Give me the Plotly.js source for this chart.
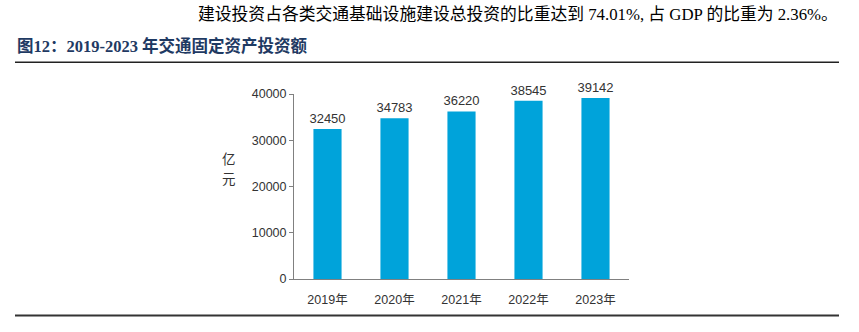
<!DOCTYPE html>
<html>
<head>
<meta charset="utf-8">
<script src="https://cdn.plot.ly/plotly-3.0.1.min.js"></script>
<style>
html,body{margin:0;padding:0;background:#fff;}
#chart{width:859px;height:332px;}
</style>
</head>
<body>
<div id="chart"></div>
<script>
// Data
var categories = ['2019年', '2020年', '2021年', '2022年', '2023年'];
var investment = [32450, 34783, 36220, 38545, 39142];
var yTickVals = [0, 10000, 20000, 30000, 40000];
var yTickText = ['0', '10000', '20000', '30000', '40000'];
var yUnitChars = ['亿', '元'];

var W = 859, H = 332;
var L = 294, R = 629, T = 94.3, B = 279.3;
function px(x) { return (x - L) / (R - L); }
function py(y) { return (B - y) / (B - T); }

var trace = {
  type: 'bar',
  x: categories,
  y: investment,
  text: investment.map(String),
  textposition: 'outside',
  constraintext: 'none',
  cliponaxis: false,
  textfont: {family: 'Liberation Sans, Arial, sans-serif', size: 13, color: '#333'},
  marker: {color: '#00a3da'},
  hoverinfo: 'none'
};

var annotations = [
  {
    xref: 'paper', yref: 'paper', x: px(840), y: py(15), xanchor: 'right', yanchor: 'middle',
    text: '建设投资占各类交通基础设施建设总投资的比重达到 74.01%, 占 GDP 的比重为 2.36%。',
    showarrow: false,
    font: {family: '"Liberation Serif", "Noto Sans CJK SC", serif', size: 16.8, color: '#000'}
  },
  {
    xref: 'paper', yref: 'paper', x: px(15), y: py(46), xanchor: 'left', yanchor: 'middle',
    text: '<b>图12：2019-2023 年交通固定资产投资额</b>',
    showarrow: false,
    font: {family: '"Liberation Serif", "Noto Sans CJK SC", serif', size: 16.5, color: '#1f3a63'}
  }
];
yUnitChars.forEach(function (ch, i) {
  annotations.push({
    xref: 'paper', yref: 'paper', x: px(229), y: py(158 + i * 20), xanchor: 'center', yanchor: 'middle',
    text: ch, showarrow: false,
    font: {family: '"Noto Sans CJK SC", sans-serif', size: 13.5, color: '#333'}
  });
});

var layout = {
  width: W, height: H,
  margin: {l: L, r: W - R, t: T, b: H - B, pad: 0},
  paper_bgcolor: '#fff',
  plot_bgcolor: '#fff',
  showlegend: false,
  bargap: 0.58,
  font: {family: 'Liberation Sans, Arial, "Noto Sans CJK SC", sans-serif', size: 12, color: '#333'},
  xaxis: {
    type: 'category',
    showline: true, linecolor: '#808080', linewidth: 1,
    ticks: '', showgrid: false, zeroline: false,
    ticklabelstandoff: 9,
    tickfont: {family: 'Liberation Sans, Arial, "Noto Sans CJK SC", sans-serif', size: 12.5, color: '#333'},
    fixedrange: true
  },
  yaxis: {
    range: [0, 40000],
    tickvals: yTickVals, ticktext: yTickText,
    showline: true, linecolor: '#808080', linewidth: 1,
    ticks: 'outside', ticklen: 4, tickcolor: '#808080',
    showgrid: false, zeroline: false,
    tickfont: {family: 'Liberation Sans, Arial, sans-serif', size: 12.5, color: '#333'},
    fixedrange: true
  },
  annotations: annotations,
  shapes: [
    {type: 'line', xref: 'paper', yref: 'paper', x0: px(15), x1: px(839), y0: py(62.5), y1: py(62.5),
     line: {color: '#222', width: 1.5}},
    {type: 'line', xref: 'paper', yref: 'paper', x0: px(15), x1: px(839), y0: py(315.7), y1: py(315.7),
     line: {color: '#333', width: 2}}
  ]
};

Plotly.newPlot('chart', [trace], layout, {displayModeBar: false, staticPlot: true});
</script>
</body>
</html>
